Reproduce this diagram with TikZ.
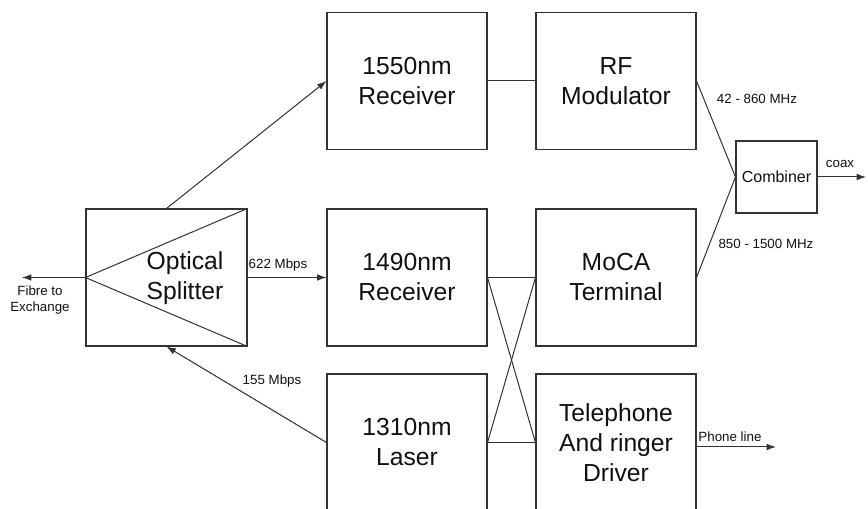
\documentclass[tikz,border=0pt]{standalone}
\usepackage{fontspec}
\setmainfont{Liberation Sans}
\usepackage{xcolor}
\usepackage{tikz}
\usetikzlibrary{arrows.meta,calc}
\definecolor{INK}{HTML}{111111}
\definecolor{LINE}{HTML}{333333}

\begin{document}
\begin{tikzpicture}[
  x=0.75pt, y=-0.75pt,
  block/.style={draw=LINE, line width=0.8pt, minimum width=120pt,
    minimum height=102.75pt, inner sep=0pt, align=center, text=INK,
    font=\fontsize{18.5}{22.5}\selectfont},
  lbl/.style={font=\fontsize{10}{12}\selectfont, text=INK, inner sep=0pt, align=center},
  wire/.style={draw=LINE, line width=0.75pt},
  sig/.style={wire, -{Latex[length=7pt,width=5pt]}},
]
\useasboundingbox[fill=white] (0,0) rectangle (868,509);

% ---- splitter -------------------------------------------------------------
\node[block, minimum width=120.75pt] (split) at (166.5,277.5) {};
\draw[wire] (split.west) -- (split.north east);
\draw[wire] (split.west) -- (split.south east);
\node[block, draw=none, minimum width=0pt, minimum height=0pt] (splittxt) at (185,278) {Optical\\Splitter};

% ---- optical blocks -------------------------------------------------------
\node[block] (rxa) at (407,81) {1550nm\\Receiver};
\node[block] (rxb) at (407,277.5) {1490nm\\Receiver};
\node[block] (laser) at (407,442.5) {1310nm\\Laser};

% ---- electrical blocks ----------------------------------------------------
\node[block] (rfmod) at (616,81) {RF\\Modulator};
\node[block] (moca) at (616,277.5) {MoCA\\Terminal};
\node[block] (phone) at (616,442.5) {Telephone\\And ringer\\Driver};
\node[block, minimum width=60.75pt, minimum height=54pt,
  font=\fontsize{12}{14}\selectfont] (comb) at (776.5,177) {Combiner};

% ---- free ends ------------------------------------------------------------
\coordinate (fibre) at (22,277.5);
\coordinate (coaxend) at (866,177);
\coordinate (lineend) at (776,447);

% ---- fibre side -----------------------------------------------------------
\draw[sig] (split.west) -- (fibre);
\node[lbl] (fibretxt) at (40,300) {Fibre to\\Exchange};
\draw[sig] (split.north) -- (rxa.west);
\draw[sig] (split.east) -- (rxb.west);
\node[lbl] (down) at (278,265) {622 Mbps};
\draw[sig] (laser.west) -- (split.south);
\node[lbl] (up) at (272,381) {155 Mbps};

% ---- cross-over -----------------------------------------------------------
\draw[wire] (rxa.east) -- (rfmod.west);
\draw[wire] (rxb.east) -- (moca.west);
\draw[wire] (rxb.east) -- (phone.west);
\draw[wire] (moca.west) -- (laser.east);
\draw[wire] (laser.east) -- (phone.west);

% ---- combiner -------------------------------------------------------------
\draw[wire] (rfmod.east) -- (comb.west);
\draw[wire] (moca.east) -- (comb.west);
\node[lbl] (bandlo) at (757,99) {42 - 860 MHz};
\node[lbl] (bandhi) at (766,244) {850 - 1500 MHz};
\draw[sig] (comb.east) -- (coaxend);
\node[lbl] (coax) at (840,164) {coax};

% ---- phone line -----------------------------------------------------------
\draw[sig] (phone.east |- lineend) -- (lineend);
\node[lbl] (linetxt) at (730,437) {Phone line};

\end{tikzpicture}
\end{document}
